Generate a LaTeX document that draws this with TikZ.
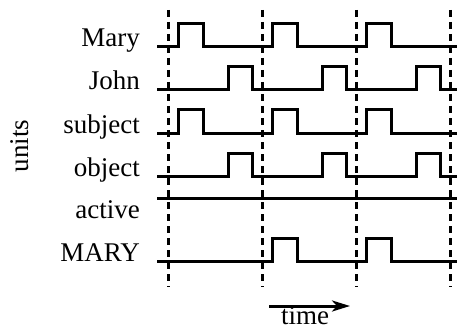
\documentclass[tikz,border=0pt]{standalone}
\usepackage{fontspec}
\setmainfont{Liberation Serif}
\usetikzlibrary{arrows.meta}
\begin{document}
\begin{tikzpicture}[x=1pt,y=-1pt,
  sig/.style={line width=3pt, line join=miter},
  gridline/.style={line width=3pt, dash pattern=on 7pt off 5pt},
  lab/.style={anchor=base east, font=\fontsize{27}{32}\selectfont, inner sep=0pt}]
\useasboundingbox (0,0) rectangle (457,334);
% dashed time markers
\foreach \t in {168,262,356,450}
  \draw[gridline] (\t,10) -- (\t,287);
% labels
\node[lab] (lmary) at (140,47) {Mary};
\node[lab] (ljohn) at (140,90) {John};
\node[lab] (lsubj) at (140,133) {subject};
\node[lab] (lobj) at (140,176) {object};
\node[lab] (lact) at (140,218) {active};
\node[lab] (lMARY) at (140,261) {MARY};
\node[font=\fontsize{27}{32}\selectfont, rotate=90, inner sep=0pt] (units) at (20,146) {units};
% signals
\draw[sig] (157,47) foreach \t in {168,262,356} { -| ({\t+10},24) -| ({\t+35},47) } -- (457,47);
\draw[sig] (157,90) foreach \t in {168,262,356} { -| ({\t+60},67) -| ({\t+84},90) } -- (457,90);
\draw[sig] (157,133) foreach \t in {168,262,356} { -| ({\t+10},109) -| ({\t+35},133) } -- (457,133);
\draw[sig] (157,176) foreach \t in {168,262,356} { -| ({\t+60},153) -| ({\t+84},176) } -- (457,176);
\draw[sig] (157,198) -- (457,198);
\draw[sig] (157,261) foreach \t in {262,356} { -| ({\t+10},238) -| ({\t+35},261) } -- (457,261);
% time arrow
\coordinate (ta) at (269,306);
\coordinate (tb) at (350,306);
\draw[line width=3pt, -{Stealth[length=18pt,width=11pt,inset=5pt]}] (ta) -- (tb);
\node[font=\fontsize{27}{32}\selectfont, anchor=base, inner sep=0pt] (time) at (305,324) {time};
\end{tikzpicture}
\end{document}
